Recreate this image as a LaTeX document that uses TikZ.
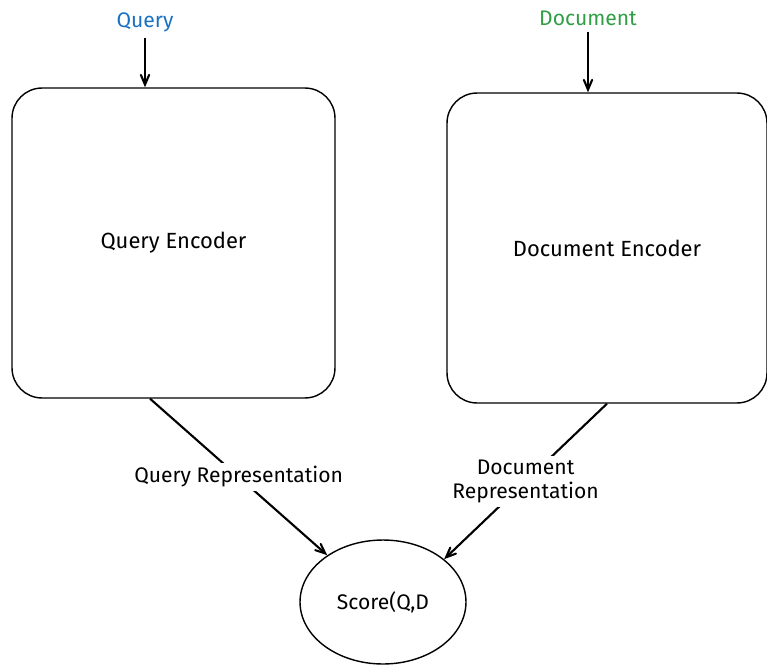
\documentclass[tikz,border=0pt]{standalone}
\usepackage{fontspec}
\setmainfont{Fira Sans}
\usepackage{xcolor}
\usepackage{tikz}
\usetikzlibrary{shapes.geometric, arrows}
\definecolor{qblue}{RGB}{25,113,194}
\definecolor{dgreen}{RGB}{47,158,68}
\tikzstyle{encoder} = [rectangle, rounded corners=0.6cm, minimum height=6.2cm, text centered, draw=black, thick, font=\fontsize{12.5}{15}\selectfont]
\tikzstyle{scorer} = [ellipse, minimum width=3.32cm, minimum height=2.48cm, text centered, draw=black, thick, font=\fontsize{12}{14}\selectfont]
\tikzstyle{inlabel} = [font=\fontsize{12}{14}\selectfont]
\tikzstyle{replabel} = [fill=white, align=center, inner sep=2pt, font=\fontsize{12}{14}\selectfont]
\tikzstyle{arrow} = [very thick,->,>=angle 45]

\begin{document}
\begin{tikzpicture}[x=0.02cm, y=-0.02cm]

\useasboundingbox (0,0) rectangle (767,666);

\node (qin) [inlabel, text=qblue] at (145,22) {Query};
\node (din) [inlabel, text=dgreen] at (588,18) {Document};
\node (qbox) [encoder, minimum width=6.46cm] at (173.5,243) {Query Encoder};
\node (dbox) [encoder, minimum width=6.4cm] at (607,248) {Document Encoder};
\node (score) [scorer] at (383,602) {Score(Q,D};

\draw [arrow] (qin.south) -- (qin.south |- qbox.north);
\draw [arrow] (din.south) -- (din.south |- dbox.north);
\draw [arrow] ([xshift=-0.47cm]qbox.south) -- node[replabel] {Query Representation} (score.140);
\draw [arrow] (dbox.south) -- node[replabel] {Document\\Representation} (score.35);

\end{tikzpicture}
\end{document}
